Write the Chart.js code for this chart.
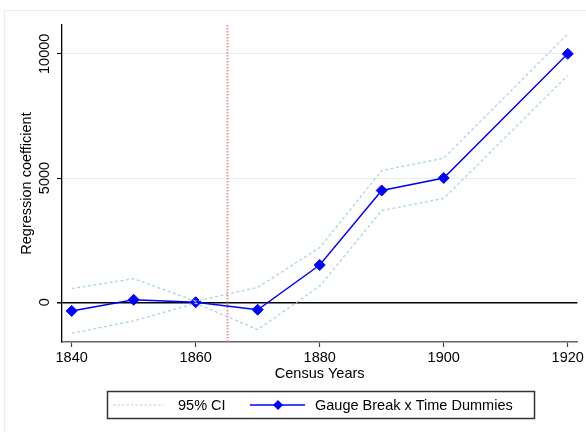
<!DOCTYPE html>
<html lang="en">
<head>
    <meta charset="UTF-8">
    <title>Gauge Break x Time Dummies</title>
    <script src="https://cdn.jsdelivr.net/npm/chart.js"></script>
    <style>
        body { margin: 0; background: #fff; }
        #wrap { width: 586px; height: 432px; }
    </style>
</head>
<body>
    <div id="wrap"><canvas id="coefChart" width="586" height="432"></canvas></div>
    <script>
        // census years and estimates
        var years = [1840, 1850, 1860, 1870, 1880, 1890, 1900, 1920];
        var coef = [-350, 100, 0, -300, 1500, 4500, 5000, 10000];
        var ciUpper = [550, 950, 40, 600, 2200, 5300, 5800, 10800];
        var ciLower = [-1250, -750, -40, -1100, 650, 3690, 4180, 9130];
        var xTicks = [1840, 1860, 1880, 1900, 1920];
        var yTicks = [0, 5000, 10000];
        var breakYear = 1865;

        var FONT = '"Liberation Sans", Arial, Helvetica, sans-serif';
        var ciColor = '#a9d6e6';
        var mainColor = '#0000ff';

        function pts(arr) {
            return years.map(function(y, i) { return { x: y, y: arr[i] }; });
        }

        // background frame, break line, rotated y labels, legend box
        var extras = {
            id: 'extras',
            beforeDraw: function(chart) {
                var c = chart.ctx;
                c.save();
                c.fillStyle = '#fff';
                c.fillRect(0, 0, chart.width, chart.height);
                c.strokeStyle = '#e6eeee';
                c.lineWidth = 1;
                c.beginPath();
                c.moveTo(4.5, 432);
                c.lineTo(4.5, 10.5);
                c.lineTo(586, 10.5);
                c.stroke();
                c.restore();
            },
            beforeDatasetsDraw: function(chart) {
                var c = chart.ctx, xs = chart.scales.x, area = chart.chartArea;
                var px = Math.round(xs.getPixelForValue(breakYear));
                c.save();
                c.fillStyle = '#f29090';
                for (var py = Math.round(area.top); py < area.bottom; py += 3) {
                    c.fillRect(px - 0.5, py, 2, 1.5);
                }
                c.restore();
            },
            afterDraw: function(chart) {
                var c = chart.ctx, ys = chart.scales.y;
                c.save();
                c.fillStyle = '#000';
                c.font = '14.5px ' + FONT;
                c.textAlign = 'center';
                c.textBaseline = 'middle';
                yTicks.forEach(function(v) {
                    c.save();
                    c.translate(45, ys.getPixelForValue(v));
                    c.rotate(-Math.PI / 2);
                    c.fillText(String(v), 0, 0);
                    c.restore();
                });

                // legend
                c.lineWidth = 1.5;
                c.strokeStyle = '#333';
                c.strokeRect(107.5, 391.5, 427, 27);
                var ly = 405;
                c.strokeStyle = ciColor;
                c.lineWidth = 1.2;
                c.setLineDash([2.5, 2]);
                c.beginPath();
                c.moveTo(113, ly);
                c.lineTo(164, ly);
                c.stroke();
                c.setLineDash([]);
                c.strokeStyle = mainColor;
                c.lineWidth = 1.3;
                c.beginPath();
                c.moveTo(250, ly);
                c.lineTo(305, ly);
                c.stroke();
                c.fillStyle = mainColor;
                c.beginPath();
                c.moveTo(278, ly - 5);
                c.lineTo(283, ly);
                c.lineTo(278, ly + 5);
                c.lineTo(273, ly);
                c.closePath();
                c.fill();
                c.fillStyle = '#000';
                c.textAlign = 'left';
                c.fillText('95% CI', 178, ly + 1);
                c.fillText('Gauge Break x Time Dummies', 315, ly + 1);
                c.restore();
            }
        };

        var ctx = document.getElementById('coefChart').getContext('2d');
        var coefChart = new Chart(ctx, {
            type: 'line',
            data: {
                datasets: [{
                    label: '95% CI',
                    data: pts(ciUpper),
                    borderColor: ciColor,
                    borderWidth: 1.3,
                    borderDash: [3, 2.5],
                    pointRadius: 0,
                    fill: false,
                    tension: 0
                }, {
                    label: '95% CI lower',
                    data: pts(ciLower),
                    borderColor: ciColor,
                    borderWidth: 1.3,
                    borderDash: [3, 2.5],
                    pointRadius: 0,
                    fill: false,
                    tension: 0
                }, {
                    label: 'Gauge Break x Time Dummies',
                    data: pts(coef),
                    borderColor: mainColor,
                    backgroundColor: mainColor,
                    borderWidth: 1.4,
                    pointStyle: 'rectRot',
                    pointRadius: 5.5,
                    pointBorderWidth: 1,
                    fill: false,
                    tension: 0
                }]
            },
            options: {
                responsive: false,
                animation: false,
                layout: { padding: { left: 0, top: 25, right: 7, bottom: 50 } },
                plugins: {
                    legend: { display: false },
                    tooltip: { enabled: false }
                },
                scales: {
                    x: {
                        type: 'linear',
                        min: 1838.44,
                        max: 1921.56,
                        afterBuildTicks: function(s) { s.ticks = xTicks.map(function(v) { return { value: v }; }); },
                        afterFit: function(s) { s.height = 40; },
                        grid: { drawOnChartArea: false, drawTicks: true, tickLength: 5, tickColor: '#444', tickWidth: 1.2 },
                        border: { color: '#666', width: 1.5 },
                        ticks: { color: '#000', font: { family: FONT, size: 14.5 }, padding: 2, maxRotation: 0,
                                 callback: function(v) { return String(v); } },
                        title: { display: true, text: 'Census Years', color: '#000',
                                 font: { family: FONT, size: 14.5, lineHeight: 1.1 }, padding: { top: 0, bottom: 0 } }
                    },
                    y: {
                        min: -1600,
                        max: 11160,
                        afterBuildTicks: function(s) { s.ticks = yTicks.map(function(v) { return { value: v }; }); },
                        afterFit: function(s) { s.width = 62; },
                        grid: {
                            color: function(c) { return c.tick && c.tick.value === 0 ? '#000' : '#e4eeef'; },
                            lineWidth: function(c) { return c.tick && c.tick.value === 0 ? 1.5 : 1; },
                            tickColor: '#000',
                            tickLength: 5
                        },
                        border: { color: '#000', width: 1.3 },
                        ticks: { display: false },
                        title: { display: true, text: 'Regression coefficient', color: '#000',
                                 font: { family: FONT, size: 14.5, lineHeight: 1.1 }, padding: { top: 19, bottom: 0 } }
                    }
                }
            },
            plugins: [extras]
        });
    </script>
</body>
</html>
